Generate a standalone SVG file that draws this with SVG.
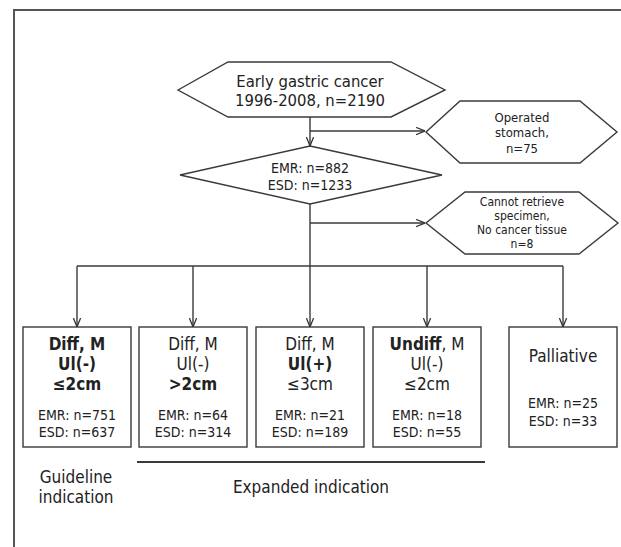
<svg xmlns="http://www.w3.org/2000/svg" width="621" height="547" viewBox="0 0 621 547">
<defs>
<marker id="ah" viewBox="0 0 10 10" refX="10" refY="5" markerWidth="9" markerHeight="9" markerUnits="userSpaceOnUse" orient="auto">
<path d="M0,1 L10,5 L0,9" fill="none" stroke="#333" stroke-width="1.4"/>
</marker>
<style>
.shape{fill:#fff;stroke:#3a3a3a;stroke-width:1.4}
.line{fill:none;stroke:#3a3a3a;stroke-width:1.4}
.t{font-family:"DejaVu Sans Condensed","Liberation Sans",Arial,sans-serif;font-stretch:condensed;fill:#222;text-anchor:middle}
.s12{font-size:12px}
.s13{font-size:13px}
.s14{font-size:14px}
.s16{font-size:16.5px}
.s17{font-size:17px}
.b{font-weight:bold}
.frame{fill:none;stroke:#555;stroke-width:2}
</style>
</defs>
<rect width="621" height="547" fill="#fff"/>
<path class="frame" d="M14,547 L14,10 L621,10"/>

<g id="connectors">
<path class="line" d="M310,117 L310,146" marker-end="url(#ah)"/>
<path class="line" d="M310,131 L425,131" marker-end="url(#ah)"/>
<path class="line" d="M310,204 L310,266"/>
<path class="line" d="M310,223 L425,223" marker-end="url(#ah)"/>
<path class="line" d="M77,266 L563,266"/>
<path class="line" d="M77,266 L77,327" marker-end="url(#ah)"/>
<path class="line" d="M193,266 L193,327" marker-end="url(#ah)"/>
<path class="line" d="M310,266 L310,327" marker-end="url(#ah)"/>
<path class="line" d="M427,266 L427,327" marker-end="url(#ah)"/>
<path class="line" d="M563,266 L563,327" marker-end="url(#ah)"/>
</g>

<g id="start">
<polygon class="shape" points="178,90 228,62 391,62 445,90 391,117 228,117"/>
<text class="t s16" x="310" y="87">Early gastric cancer</text>
<text class="t s16" x="310" y="106">1996-2008, n=2190</text>
</g>

<g id="operated">
<polygon class="shape" points="426,132 460,101 580,101 617,132 580,163 460,163"/>
<text class="t s13" x="522" y="122">Operated</text>
<text class="t s13" x="522" y="137">stomach,</text>
<text class="t s13" x="522" y="153">n=75</text>
</g>

<g id="decision">
<polygon class="shape" points="310,146 442,175 310,204 180,175"/>
<text class="t s14" x="310" y="173">EMR: n=882</text>
<text class="t s14" x="310" y="190">ESD: n=1233</text>
</g>

<g id="excluded">
<polygon class="shape" points="426,223 465,192 579,192 618,223 579,254 465,254"/>
<text class="t s12" x="522" y="206">Cannot retrieve</text>
<text class="t s12" x="522" y="220">specimen,</text>
<text class="t s12" x="522" y="234">No cancer tissue</text>
<text class="t s12" x="522" y="248">n=8</text>
</g>

<g id="box1">
<rect class="shape" x="23" y="327" width="108" height="120"/>
<text class="t s17 b" x="77" y="350">Diff, M</text>
<text class="t s17 b" x="77" y="370">Ul(-)</text>
<text class="t s17 b" x="77" y="390">≤2cm</text>
<text class="t s14" x="77" y="420">EMR: n=751</text>
<text class="t s14" x="77" y="437">ESD: n=637</text>
</g>

<g id="box2">
<rect class="shape" x="139" y="327" width="108" height="120"/>
<text class="t s17" x="193" y="350">Diff, M</text>
<text class="t s17" x="193" y="370">Ul(-)</text>
<text class="t s17 b" x="193" y="390">&gt;2cm</text>
<text class="t s14" x="193" y="420">EMR: n=64</text>
<text class="t s14" x="193" y="437">ESD: n=314</text>
</g>

<g id="box3">
<rect class="shape" x="256" y="327" width="108" height="120"/>
<text class="t s17" x="310" y="350">Diff, M</text>
<text class="t s17 b" x="310" y="370">Ul(+)</text>
<text class="t s17" x="310" y="390">≤3cm</text>
<text class="t s14" x="310" y="420">EMR: n=21</text>
<text class="t s14" x="310" y="437">ESD: n=189</text>
</g>

<g id="box4">
<rect class="shape" x="373" y="327" width="108" height="120"/>
<text class="t s17" x="427" y="350"><tspan class="b">Undiff</tspan>, M</text>
<text class="t s17" x="427" y="370">Ul(-)</text>
<text class="t s17" x="427" y="390">≤2cm</text>
<text class="t s14" x="427" y="420">EMR: n=18</text>
<text class="t s14" x="427" y="437">ESD: n=55</text>
</g>

<g id="box5">
<rect class="shape" x="509" y="327" width="108" height="120"/>
<text class="t s17" x="563" y="362">Palliative</text>
<text class="t s14" x="563" y="408">EMR: n=25</text>
<text class="t s14" x="563" y="426">ESD: n=33</text>
</g>

<g id="labels">
<path class="line" d="M137,462 L485,462" style="stroke-width:2"/>
<text class="t s17" x="76" y="483">Guideline</text>
<text class="t s17" x="76" y="503">indication</text>
<text class="t s17" x="311" y="493">Expanded indication</text>
</g>
</svg>
